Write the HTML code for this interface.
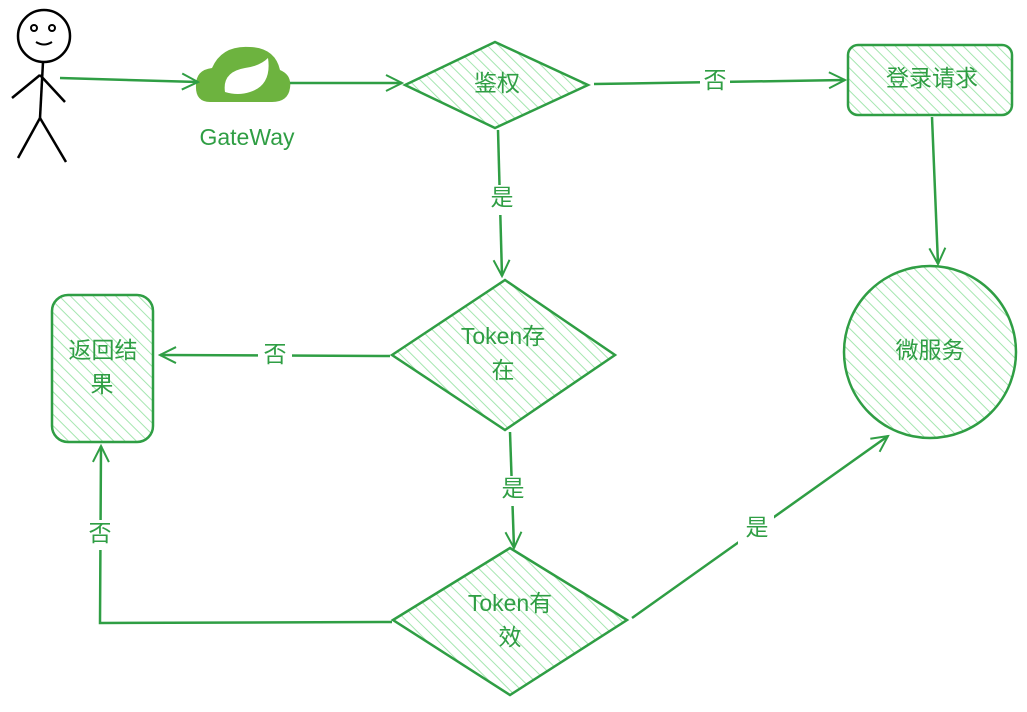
<!DOCTYPE html>
<html><head><meta charset="utf-8"><style>
body{margin:0;background:#fff;}
svg{display:block}
text{font-family:"Liberation Sans","Noto Sans CJK SC",sans-serif;fill:#2f9e44;font-size:23px;text-anchor:middle;dominant-baseline:middle}
</style></head><body>
<svg width="1027" height="712" viewBox="0 0 1027 712">
<defs>
<pattern id="h" width="8" height="8" patternUnits="userSpaceOnUse" patternTransform="rotate(-45)">
<line x1="0" y1="0" x2="0" y2="8" stroke="#a5e6b0" stroke-width="2"/>
</pattern>
<marker id="a" markerWidth="20" markerHeight="20" refX="18" refY="10" orient="auto" markerUnits="userSpaceOnUse">
<path d="M2 2 L18 10 L2 18" fill="none" stroke="#2f9e44" stroke-width="2"/>
</marker>
</defs>
<g stroke="#2f9e44" stroke-width="2.5" fill="none">
<g stroke="#000" stroke-width="2.5">
<circle cx="44" cy="36" r="26" fill="#fff"/>
<line x1="43" y1="62" x2="40" y2="118"/>
<line x1="40" y1="75" x2="12" y2="98"/>
<line x1="40" y1="75" x2="65" y2="102"/>
<line x1="40" y1="118" x2="18" y2="158"/>
<line x1="40" y1="118" x2="66" y2="162"/>
<circle cx="34" cy="28" r="3" stroke-width="2"/><circle cx="52" cy="28" r="3" stroke-width="2"/>
<path d="M36 42 Q44 47 52 42" stroke-width="2"/>
</g>
<path d="M210 102 Q195 102 196 85 Q196 70 212 68 Q222 45 250 47 Q275 48 280 70 Q292 75 290 88 Q288 102 272 102 Z" fill="#6db33f" stroke="none"/>
<path d="M225 92 Q222 72 245 68 Q260 66 268 58 Q272 85 250 92 Q238 96 225 92Z" fill="#fff" stroke="none"/>
<path d="M405 85 L495 42 L588 85 L495 128 Z" fill="url(#h)"/>
<rect x="848" y="45" width="164" height="70" rx="10" fill="url(#h)"/>
<circle cx="930" cy="352" r="86" fill="url(#h)"/>
<path d="M392 355 L505 280 L615 355 L505 430 Z" fill="url(#h)"/>
<rect x="52" y="295" width="101" height="147" rx="16" fill="url(#h)"/>
<path d="M393 620 L510 548 L627 620 L510 695 Z" fill="url(#h)"/>
<line x1="60" y1="78" x2="198" y2="82" marker-end="url(#a)"/>
<line x1="290" y1="83" x2="402" y2="83" marker-end="url(#a)"/>
<line x1="594" y1="84" x2="845" y2="80" marker-end="url(#a)"/>
<line x1="932" y1="117" x2="938" y2="264" marker-end="url(#a)"/>
<line x1="498" y1="130" x2="502" y2="276" marker-end="url(#a)"/>
<line x1="390" y1="356" x2="160" y2="355" marker-end="url(#a)"/>
<line x1="510" y1="432" x2="514" y2="548" marker-end="url(#a)"/>
<path d="M392 622 L100 623 L101 446" marker-end="url(#a)"/>
<line x1="632" y1="618" x2="888" y2="436" marker-end="url(#a)"/>
</g>
<g>
<rect x="700" y="68" width="30" height="28" fill="#fff"/>
<rect x="487" y="185" width="30" height="30" fill="#fff"/>
<rect x="258" y="342" width="34" height="28" fill="#fff"/>
<rect x="497" y="476" width="32" height="30" fill="#fff"/>
<rect x="85" y="520" width="30" height="30" fill="#fff"/>
<rect x="738" y="515" width="36" height="30" fill="#fff"/>
</g>
<text x="247" y="139" font-size="22">GateWay</text>
<text x="497" y="85">鉴权</text>
<text x="715" y="82">否</text>
<text x="932" y="80">登录请求</text>
<text x="502" y="199">是</text>
<text x="930" y="352">微服务</text>
<text x="503" y="338">Token存</text>
<text x="503" y="372">在</text>
<text x="275" y="356">否</text>
<text x="103" y="352">返回结</text>
<text x="102" y="386">果</text>
<text x="513" y="490">是</text>
<text x="510" y="605">Token有</text>
<text x="510" y="639">效</text>
<text x="100" y="535">否</text>
<text x="757" y="529">是</text>
</svg>
</body></html>
